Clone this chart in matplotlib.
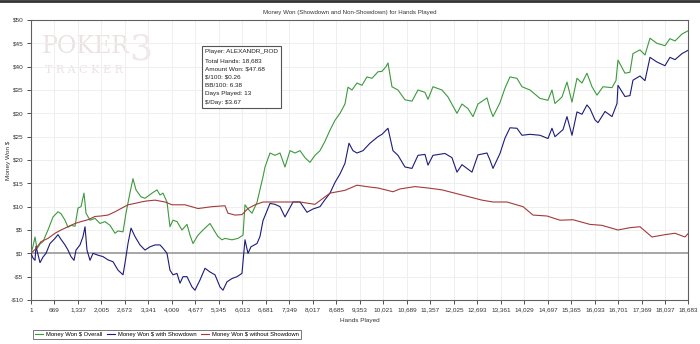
import matplotlib
matplotlib.use("Agg")
import matplotlib.pyplot as plt
from matplotlib.ticker import FixedLocator, FuncFormatter

# ---------------- data ----------------
overall_hands = [1, 58, 115, 172, 257, 342, 484, 627, 769, 854, 968, 1053, 1138, 1252, 1337, 1423, 1508,
                 1565, 1679, 1821, 1963, 2105, 2247, 2390, 2475, 2617, 2702, 2816, 2901, 2987, 3129, 3243,
                 3442, 3584, 3669, 3754, 3868, 3953, 4038, 4152, 4295, 4437, 4522, 4607, 4750, 4892, 5091,
                 5233, 5318, 5432, 5517, 5716, 5887, 6029, 6086, 6171, 6285, 6427, 6512, 6598, 6655, 6797,
                 6939, 7081, 7223, 7366, 7508, 7650, 7792, 7934, 8076, 8218, 8360, 8503, 8645, 8787, 8929,
                 9014, 9128, 9270, 9412, 9554, 9696, 9867, 9981, 10095, 10152, 10265, 10436, 10635, 10834,
                 11005, 11204, 11289, 11431, 11687, 11858, 12114, 12256, 12427, 12569, 12711, 12967, 13052,
                 13138, 13337, 13479, 13621, 13820, 13962, 14190, 14474, 14701, 14815, 14900, 15100, 15242,
                 15384, 15526, 15668, 15810, 15953, 16095, 16266, 16522, 16635, 16692, 16891, 17033, 17118,
                 17317, 17460, 17602, 17800, 18028, 18170, 18313, 18512, 18683]
overall_won = [0, 1.5, 3.5, 1.0, 2.0, 2.5, 5.0, 7.8, 8.9, 8.5, 7.1, 5.6, 6.0, 5.8, 9.7, 10.0, 12.9,
               8.6, 7.1, 7.5, 6.4, 6.8, 6.0, 4.3, 4.8, 4.6, 8.6, 13.0, 16.0, 13.6, 12.1, 11.8,
               12.9, 13.6, 12.5, 12.9, 11.0, 5.7, 7.1, 6.8, 5.0, 6.2, 3.9, 2.1, 3.9, 5.0, 6.4,
               4.6, 3.6, 2.9, 3.2, 2.9, 3.2, 3.9, 10.4, 9.5, 8.6, 10.9, 13.6, 16.4, 18.5, 21.5,
               21.0, 21.5, 18.5, 22.0, 21.5, 22.0, 20.5, 19.5, 21.0, 22.0, 24.0, 26.4, 28.5, 30.0, 32.0,
               35.6, 35.0, 36.5, 36.0, 37.8, 37.5, 38.9, 39.0, 40.0, 40.8, 35.7, 35.0, 32.9, 32.6,
               35.0, 34.5, 33.0, 35.7, 35.0, 33.5, 30.0, 32.0, 31.0, 29.3, 32.0, 33.3, 31.0,
               29.3, 32.3, 35.4, 37.8, 37.5, 35.7, 35.0, 33.2, 32.8, 35.0, 32.1, 33.5, 36.7,
               32.4, 37.5, 36.5, 38.6, 35.7, 33.9, 35.7, 35.5, 37.0, 41.4, 38.6, 38.8, 42.8,
               43.6, 42.5, 46.1, 45.0, 44.5, 46.0, 45.5, 47.0, 47.68]

sd_hands = [1, 58, 115, 143, 257, 342, 428, 541, 683, 769, 854, 968, 1053, 1138, 1224, 1281, 1394, 1480,
            1537, 1593, 1679, 1764, 1906, 2048, 2190, 2333, 2475, 2617, 2674, 2759, 2845, 2958, 3100,
            3243, 3385, 3527, 3669, 3754, 3868, 3953, 4038, 4152, 4238, 4323, 4437, 4579, 4664, 4807,
            4949, 5091, 5233, 5375, 5460, 5574, 5716, 5858, 6000, 6086, 6171, 6256, 6427, 6512, 6598,
            6797, 6939, 7081, 7223, 7451, 7650, 7849, 8019, 8218, 8360, 8503, 8645, 8787, 8929, 9043,
            9156, 9270, 9441, 9640, 9867, 9981, 10152, 10294, 10436, 10635, 10834, 11005, 11204, 11289,
            11431, 11772, 11971, 12114, 12256, 12540, 12711, 12967, 13052, 13138, 13337, 13479, 13621,
            13820, 13962, 14190, 14474, 14701, 14815, 14900, 15128, 15242, 15384, 15526, 15668, 15810,
            15896, 16038, 16124, 16323, 16522, 16664, 16692, 16891, 17033, 17118, 17317, 17460, 17602,
            17800, 18028, 18170, 18313, 18512, 18683]
sd_won = [0, -1.0, -1.5, 1.5, -2.0, -0.8, 0, 2.1, 3.2, 4.0, 3.0, 1.8, 0.7, -0.7, -1.5, 0.7, 1.8, 3.6,
          5.7, 0.7, -1.5, 0, -0.4, -0.7, -1.4, -1.8, -3.6, -4.6, -2.1, 2.1, 5.4, 3.6, 1.8,
          0.7, 1.4, 1.8, 1.8, 1.1, 0, -3.6, -4.6, -4.3, -6.4, -5.0, -5.0, -7.2, -7.9, -5.7,
          -3.2, -4.0, -4.6, -7.2, -7.9, -6.1, -5.4, -5.0, -4.3, 2.9, 0, 1.4, 2.1, 3.6, 7.0,
          10.7, 10.5, 10.0, 7.8, 11.0, 11.0, 8.8, 9.5, 10.0, 11.5, 12.9, 15.2, 17.0, 19.3, 23.6,
          22.0, 21.5, 22.0, 23.6, 25.0, 25.5, 26.8, 22.0, 21.0, 18.5, 18.2, 21.0, 21.2, 18.9,
          21.0, 21.4, 20.5, 17.4, 19.0, 17.4, 21.1, 21.5, 20.0, 18.2, 21.4, 24.7, 26.9,
          26.8, 25.3, 25.5, 25.3, 24.6, 26.8, 25.0, 26.5, 29.3, 25.3, 30.3, 29.8, 31.8,
          31.0, 28.6, 28.0, 30.4, 29.3, 32.1, 36.0, 33.6, 33.8, 37.1, 38.0, 37.0, 42.0,
          41.0, 40.2, 42.0, 41.5, 42.8, 43.5]

nsd_hands = [1, 143, 285, 484, 683, 854, 1053, 1252, 1423, 1622, 1821, 1991, 2190, 2390, 2560, 2759,
             2958, 3129, 3271, 3527, 3811, 4010, 4380, 4750, 5148, 5517, 5602, 5801, 6000, 6171,
             6370, 6598, 7081, 7650, 8076, 8503, 8929, 9270, 9640, 9867, 10294, 10493, 10919, 11289,
             11687, 12256, 12825, 13138, 13536, 13991, 14275, 14673, 15043, 15412, 15896, 16237, 16692,
             17033, 17317, 17659, 18028, 18313, 18597, 18683]
nsd_won = [0, 1.0, 2.5, 3.2, 4.3, 5.0, 5.7, 6.4, 6.8, 7.2, 7.9, 8.0, 8.2, 8.9, 9.6, 10.4,
           10.7, 11.0, 11.2, 11.4, 11.0, 10.4, 10.4, 9.6, 10.0, 10.2, 8.6, 8.2, 8.3, 9.6,
           10.4, 11.0, 11.0, 11.0, 10.5, 12.9, 13.5, 14.6, 14.2, 14.0, 13.2, 13.8, 14.3, 14.0,
           13.6, 12.5, 11.4, 11.0, 11.0, 10.0, 8.2, 8.0, 7.1, 7.2, 6.2, 6.0, 5.0,
           5.5, 5.7, 3.5, 4.0, 4.3, 3.5, 4.2]

x_ticks = [1, 669, 1337, 2005, 2673, 3341, 4009, 4677, 5345, 6013, 6681, 7349, 8017, 8685, 9353,
           10021, 10689, 11357, 12025, 12693, 13361, 14029, 14697, 15365, 16033, 16701, 17369,
           18037, 18683]
y_ticks = [-10, -5, 0, 5, 10, 15, 20, 25, 30, 35, 40, 45, 50]

series_labels = ["Money Won $ Overall", "Money Won $ with Showdown", "Money Won $ without Showdown"]
stats_lines = ["Player: ALEXANDR_ROD", "Total Hands: 18,683", "Amount Won: $47.68", "$/100: $0.26",
               "BB/100: 6.38", "Days Played: 13", "$/Day: $3.67"]
title = "Money Won (Showdown and Non-Showdown) for Hands Played"

# ---------------- plot ----------------
plt.rcParams['font.family'] = ['Liberation Sans', 'DejaVu Sans']
plt.rcParams['text.parse_math'] = False
fig = plt.figure(figsize=(7.0, 3.44), dpi=100)
fig.patch.set_facecolor('white')
ax = fig.add_axes([31/700, 44/344, 657/700, 280/344])

green = '#3c9a3c'
blue = '#1c1c78'
red = '#a33a3a'
txt = '#333333'

ax.set_xlim(1, 18683)
ax.set_ylim(-10, 50)
ax.xaxis.set_major_locator(FixedLocator(x_ticks))
ax.yaxis.set_major_locator(FixedLocator(y_ticks))
ax.xaxis.set_major_formatter(FuncFormatter(lambda v, p: f"{int(round(v)):,}"))
ax.yaxis.set_major_formatter(FuncFormatter(lambda v, p: f"${int(v)}" if v >= 0 else f"-${int(-v)}"))
ax.grid(True, color='#efefef', linewidth=0.7)
ax.set_axisbelow(True)
ax.axhline(0, color='#a0a0a0', linewidth=1.3, zorder=1)

l1, = ax.plot(overall_hands, overall_won, color=green, linewidth=0.8, zorder=3)
l2, = ax.plot(sd_hands, sd_won, color=blue, linewidth=0.8, zorder=3)
l3, = ax.plot(nsd_hands, nsd_won, color=red, linewidth=0.8, zorder=3)

for s in ax.spines.values():
    s.set_color('#606060')
    s.set_linewidth(0.8)
ax.tick_params(axis='both', labelsize=4.6, colors=txt, length=3, width=0.6, pad=2.5)
ax.set_xlabel("Hands Played", fontsize=4.6, color=txt, labelpad=4)
ax.set_ylabel("Money Won $", fontsize=4.6, color=txt)
ax.yaxis.set_label_coords(-0.03, 0.5)
fig.text(0.5, 0.963, title, ha='center', va='center', fontsize=4.4, color=txt)

# watermark logo
ax.text(0.016, 0.945, "POKER", transform=ax.transAxes, fontsize=17, family='DejaVu Serif',
        color='#ebe2e2', va='top', ha='left', zorder=0)
ax.text(0.021, 0.84, "T R A C K E R", transform=ax.transAxes, fontsize=8, family='DejaVu Serif',
        color='#ebe2e2', va='top', ha='left', zorder=0)
ax.text(0.15, 0.955, "3", transform=ax.transAxes, fontsize=26, family='DejaVu Serif',
        color='#eee8e8', va='top', ha='left', zorder=0)

# stats box
ax.text(0.265, 0.895, "\n".join(stats_lines), transform=ax.transAxes, fontsize=4.6, color='#202020',
        va='top', ha='left', linespacing=1.85, zorder=5,
        bbox=dict(boxstyle='square,pad=0.55', facecolor='white', edgecolor='#555555', linewidth=0.8))

leg = fig.legend([l1, l2, l3], series_labels, loc='lower left', bbox_to_anchor=(30/700, 2/344),
                 ncol=3, fontsize=4.2, frameon=True, fancybox=False, handlelength=1.4,
                 handletextpad=0.5, columnspacing=0.8, borderpad=0.35)
leg.get_frame().set_edgecolor('#555555')
leg.get_frame().set_linewidth(0.7)

# top dark border
fig.add_artist(plt.Line2D([0, 1], [0.997, 0.997], transform=fig.transFigure, color='#333333', linewidth=2))

fig.savefig("out.png", dpi=100, facecolor='white')
